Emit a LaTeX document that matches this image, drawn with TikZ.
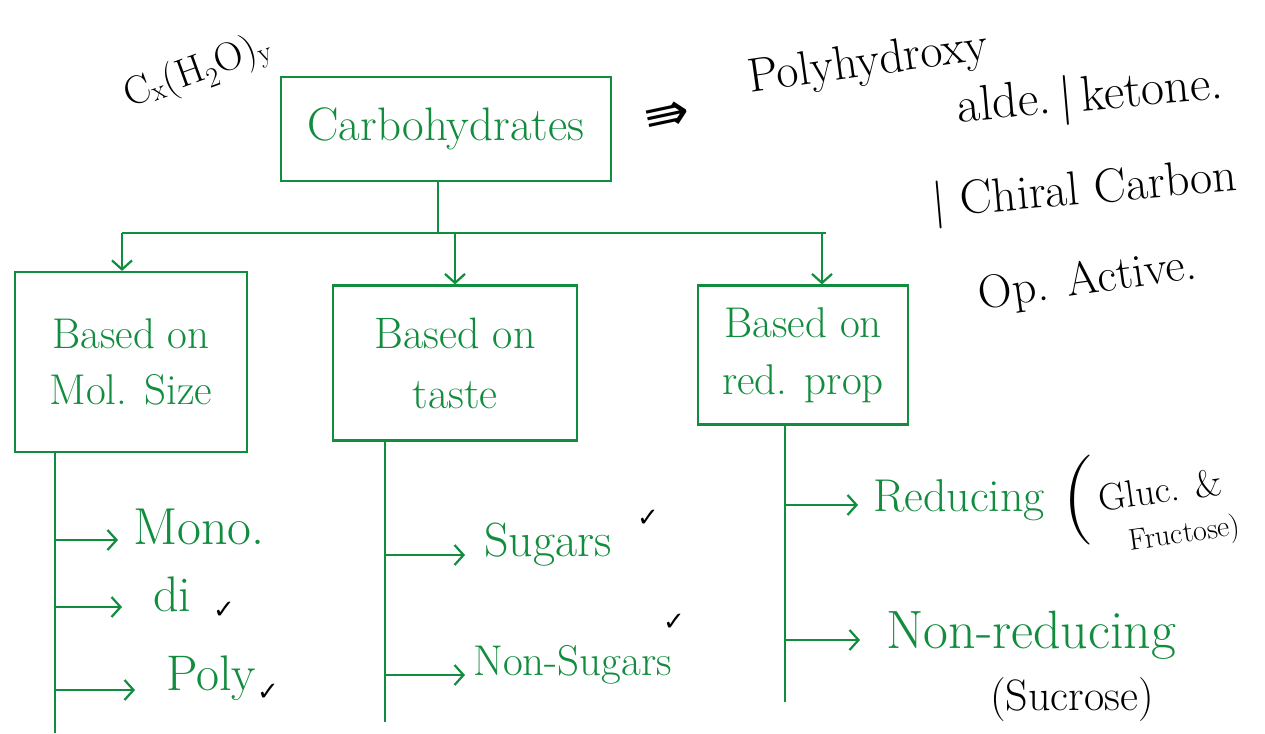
\documentclass[tikz,border=0pt]{standalone}
\usepackage{fontspec}
\usetikzlibrary{arrows.meta,calc}
\newfontfamily\dejavu{DejaVu Sans}
\definecolor{pen}{RGB}{18,140,62}
\begin{document}
\begin{tikzpicture}[x=1pt,y=-1pt,
  box/.style={draw=pen,line width=2.2pt,text=pen,align=center,inner sep=0pt},
  wire/.style={draw=pen,line width=2.2pt},
  arr/.style={wire,-{Straight Barb[length=9pt,width=20pt,line width=2.2pt]}},
  gtext/.style={text=pen,inner sep=0pt,anchor=west},
  btext/.style={text=black,inner sep=0pt,align=center},
  tick/.style={text=black,inner sep=0pt,font=\dejavu\fontsize{26}{26}\selectfont}]
\useasboundingbox (0,0) rectangle (1265,733);
\fill[white] (0,0) rectangle (1265,733);

% boxes
\node[box,minimum width=330,minimum height=104,font=\fontsize{47}{52}\selectfont] (carb) at (446,129) {Carbohydrates};
\node[box,minimum width=232,minimum height=180,font=\fontsize{43}{56}\selectfont] (b1) at (131,362) {Based on\\Mol. Size};
\node[box,minimum width=244,minimum height=155,font=\fontsize{44}{60}\selectfont] (b2) at (455,363) {Based on\\taste};
\node[box,minimum width=210,minimum height=139,font=\fontsize{43}{57}\selectfont] (b3) at (803,355) {Based on\\red. prop};

% bus
\coordinate (j) at (438,233);
\coordinate (bl) at (122,233);
\coordinate (br) at (826,233);
\coordinate (m) at (455,233);
\coordinate (r) at (822,233);
\draw[wire] (carb.south -| j) -- (j);
\draw[wire] (bl) -- (br);
\draw[arr] (bl) -- (b1.north -| bl);
\draw[arr] (m) -- (b2.north -| m);
\draw[arr] (r) -- (b3.north -| r);

% stems
\coordinate (s1) at (55,733);
\coordinate (s2) at (385,722);
\coordinate (s3) at (785,702);
\draw[wire] (b1.south -| s1) -- (s1);
\draw[wire] (b2.south -| s2) -- (s2);
\draw[wire] (b3.south -| s3) -- (s3);

% leaves
\node[gtext,font=\fontsize{52}{52}\selectfont] (mono) at (133,527) {Mono.};
\node[gtext,font=\fontsize{50}{50}\selectfont] (di) at (153,594) {di};
\node[gtext,font=\fontsize{50}{50}\selectfont] (poly) at (166,678) {Poly};
\node[gtext,font=\fontsize{48}{48}\selectfont] (sug) at (484,545) {Sugars};
\node[gtext,font=\fontsize{43}{43}\selectfont] (nsug) at (473,665) {Non-Sugars};
\node[gtext,font=\fontsize{46}{46}\selectfont] (red) at (873,500) {Reducing};
\node[gtext,font=\fontsize{54}{54}\selectfont] (nred) at (886,635) {Non-reducing};

\draw[arr] (s1 |- 0,540) -- (118,540);
\draw[arr] (s1 |- 0,607) -- (122,607);
\draw[arr] (s1 |- 0,690) -- (135,690);
\draw[arr] (s2 |- 0,555) -- (465,555);
\draw[arr] (s2 |- 0,675) -- (465,675);
\draw[arr] (s3 |- 0,505) -- (858,505);
\draw[arr] (s3 |- 0,640) -- (860,640);

% ticks
\node[tick] (t1) at (224,610) {✓};
\node[tick] (t2) at (268,692) {✓};
\node[tick] (t3) at (648,518) {✓};
\node[tick] (t4) at (674,622) {✓};

% black notes
\node[btext,font=\fontsize{40}{40}\selectfont,rotate=20] (formula) at (198,72) {C\textsubscript{x}(H\textsubscript{2}O)\textsubscript{y}};
\node[btext,font=\dejavu\fontsize{54}{54}\selectfont,rotate=12] (impl) at (668,118) {⇛};
\node[btext,font=\fontsize{48}{48}\selectfont,rotate=8] (ph) at (868,64) {Polyhydroxy};
\node[btext,font=\fontsize{50}{50}\selectfont,rotate=5] (ak) at (1090,98) {alde.\,|\,ketone.};
\node[btext,font=\fontsize{48}{48}\selectfont,rotate=5] (cc) at (1085,192) {| Chiral Carbon};
\node[btext,font=\fontsize{47}{47}\selectfont,rotate=8] (op) at (1088,282) {Op. Active.};
\node[btext,font=\fontsize{90}{90}\selectfont] (lp) at (1078,500) {(};
\node[btext,font=\fontsize{38}{38}\selectfont,rotate=8] (gluc) at (1160,490) {Gluc. \&};
\node[btext,font=\fontsize{30}{30}\selectfont,rotate=8] (fruc) at (1185,535) {Fructose)};
\node[btext,font=\fontsize{44}{44}\selectfont] (suc) at (1072,700) {(Sucrose)};
\end{tikzpicture}
\end{document}
